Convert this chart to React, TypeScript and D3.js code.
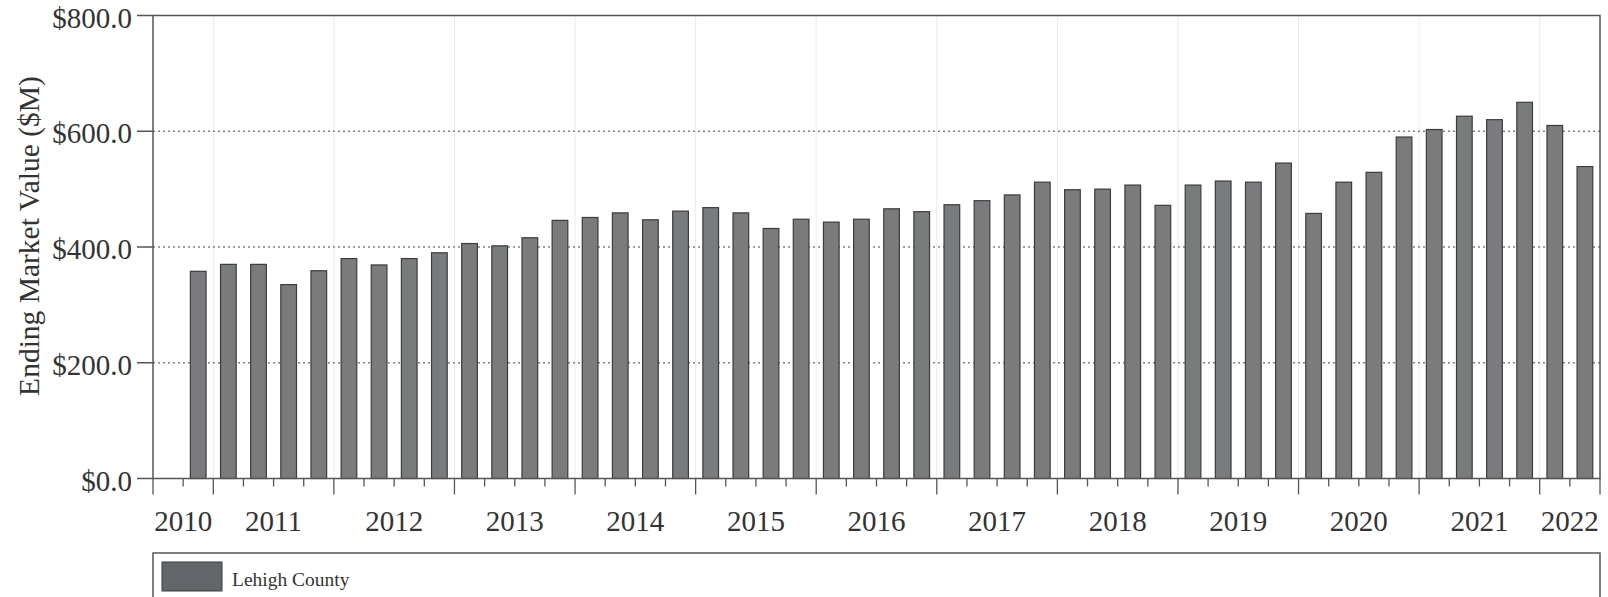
import * as d3 from 'd3';
import React, { useRef, useEffect } from 'react';

// quarters 2010 Q1 .. 2021 Q4 (first quarter has no bar)
const years = d3.range(2010, 2022);
const quarters = years.flatMap((y) => [1, 2, 3, 4].map((q) => `${y} Q${q}`));

// ending market value, $M, 2010 Q2 .. 2021 Q4
const values = [
  358, 370, 370, 335, 359, 380, 369, 380, 390, 406, 402, 416,
  446, 451, 459, 447, 462, 468, 459, 432, 448, 443, 448, 466,
  461, 473, 480, 490, 512, 499, 500, 507, 472, 507, 514, 512,
  545, 458, 512, 529, 590, 603, 626, 620, 650, 610, 539,
];

const yTicks = [0, 200, 400, 600, 800];
const yearLabels = ['2010', '2011', '2012', '2013', '2014', '2015', '2016', '2017', '2018', '2019', '2020', '2021', '2022'];
// quarter whose left edge carries each year label
const yearLabelAt = ['2010 Q2', '2011 Q1', '2012 Q1', '2013 Q1', '2014 Q1', '2015 Q1', '2016 Q1', '2017 Q1', '2018 Q1', '2019 Q1', '2020 Q1', '2021 Q1', '2021 Q4'];

const seriesName = 'Lehigh County';

const W = 1608;
const H = 597;
const FONT = '"Liberation Serif", "Times New Roman", serif';

function Chart() {
  const ref = useRef(null);

  useEffect(() => {
    const svg = d3.select(ref.current);
    svg.selectAll('*').remove();

    const left = 153, right = 1600, top = 15.5, bottom = 478.5;

    const x = d3.scaleBand().domain(quarters).range([left, right]).padding(0);
    const y = d3.scaleLinear().domain([0, 800]).range([bottom, top]);

    const data = values.map((v, i) => ({ q: quarters[i + 1], v }));
    const bw = x.bandwidth();
    const barW = bw * 0.52;

    // faint vertical grid at mid-year boundaries
    const majorIdx = d3.range(2, quarters.length, 4);
    svg.append('g')
      .selectAll('line')
      .data(majorIdx)
      .enter()
      .append('line')
      .attr('x1', (d) => left + d * bw)
      .attr('x2', (d) => left + d * bw)
      .attr('y1', top)
      .attr('y2', bottom)
      .attr('stroke', '#ebebeb')
      .attr('stroke-width', 1);

    // dotted horizontal grid
    svg.append('g')
      .selectAll('line')
      .data(yTicks.filter((t) => t > 0 && t < 800))
      .enter()
      .append('line')
      .attr('x1', left)
      .attr('x2', right)
      .attr('y1', (d) => y(d))
      .attr('y2', (d) => y(d))
      .attr('stroke', '#808080')
      .attr('stroke-width', 1.3)
      .attr('stroke-dasharray', '2,3');

    // bars
    svg.append('g')
      .selectAll('rect')
      .data(data)
      .enter()
      .append('rect')
      .attr('x', (d) => x(d.q) + (bw - barW) / 2)
      .attr('y', (d) => y(d.v))
      .attr('width', barW)
      .attr('height', (d) => y(0) - y(d.v))
      .attr('fill', '#7a7b7c')
      .attr('stroke', '#3a3c3e')
      .attr('stroke-width', 1.2);

    // frame
    svg.append('rect')
      .attr('x', left)
      .attr('y', top)
      .attr('width', right - left)
      .attr('height', bottom - top)
      .attr('fill', 'none')
      .attr('stroke', '#555')
      .attr('stroke-width', 1.5);

    // y axis ticks + labels
    const yg = svg.append('g');
    yg.selectAll('line')
      .data(yTicks)
      .enter()
      .append('line')
      .attr('x1', left - 16)
      .attr('x2', left)
      .attr('y1', (d) => y(d))
      .attr('y2', (d) => y(d))
      .attr('stroke', '#555')
      .attr('stroke-width', 1.5);
    yg.selectAll('text')
      .data(yTicks)
      .enter()
      .append('text')
      .attr('x', 132)
      .attr('y', (d) => y(d) + 12)
      .attr('text-anchor', 'end')
      .attr('font-family', FONT)
      .attr('font-size', 29)
      .attr('fill', '#333')
      .text((d) => '$' + d3.format('.1f')(d));

    // x axis ticks
    const xg = svg.append('g');
    xg.selectAll('line')
      .data(d3.range(0, quarters.length + 1))
      .enter()
      .append('line')
      .attr('x1', (d) => left + d * bw)
      .attr('x2', (d) => left + d * bw)
      .attr('y1', bottom)
      .attr('y2', (d) => bottom + (d === 0 || d === quarters.length || d % 4 === 2 ? 16 : 8))
      .attr('stroke', '#555')
      .attr('stroke-width', 1.3);
    xg.selectAll('text')
      .data(yearLabels)
      .enter()
      .append('text')
      .attr('x', (d, i) => x(yearLabelAt[i]))
      .attr('y', 531)
      .attr('text-anchor', 'middle')
      .attr('font-family', FONT)
      .attr('font-size', 29)
      .attr('fill', '#333')
      .text((d) => d);

    // y title
    svg.append('text')
      .attr('transform', `translate(39,236) rotate(-90)`)
      .attr('text-anchor', 'middle')
      .attr('font-family', FONT)
      .attr('font-size', 29.5)
      .attr('fill', '#333')
      .text('Ending Market Value ($M)');

    // legend
    const lg = svg.append('g');
    lg.append('rect')
      .attr('x', 153)
      .attr('y', 553)
      .attr('width', right - 153)
      .attr('height', 60)
      .attr('fill', 'white')
      .attr('stroke', '#555')
      .attr('stroke-width', 1.5);
    lg.append('rect')
      .attr('x', 162)
      .attr('y', 562)
      .attr('width', 60)
      .attr('height', 29)
      .attr('fill', '#63676b')
      .attr('stroke', '#3a3c3e')
      .attr('stroke-width', 1);
    lg.append('text')
      .attr('x', 232)
      .attr('y', 586)
      .attr('font-family', FONT)
      .attr('font-size', 19.5)
      .attr('fill', '#333')
      .text(seriesName);
  }, []);

  return (
    <svg ref={ref} width={W} height={H} style={{ position: 'absolute', left: 0, top: 0, background: 'white' }}>
    </svg>
  );
}

export default function App() {
  return <Chart />;
}
